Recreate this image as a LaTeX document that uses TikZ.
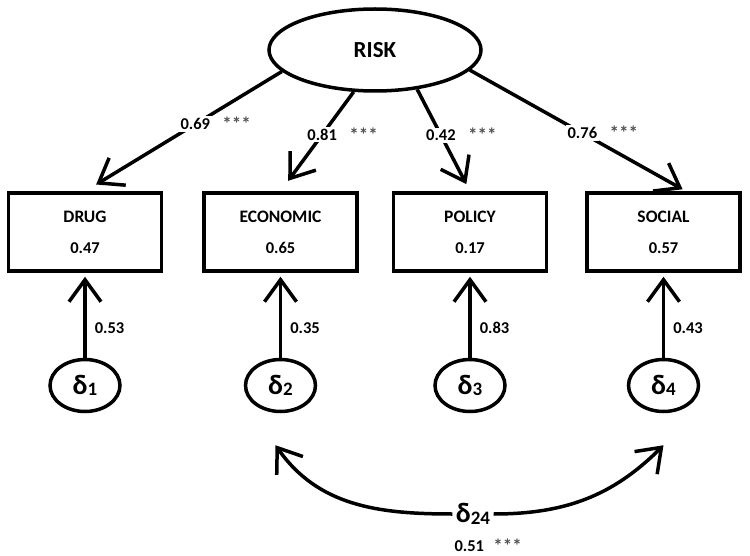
\documentclass[tikz,border=0pt]{standalone}
\usepackage{fontspec}
\setmainfont{Carlito}
\usepackage{tikz}
\usetikzlibrary{positioning, shapes.geometric, arrows.meta}
\definecolor{starcol}{RGB}{80,80,80}
\newcommand{\errsym}[1]{{\fontsize{28}{28}\selectfont δ}\raisebox{-0.35ex}{\fontsize{19}{19}\selectfont #1}}

\begin{document}
\begin{tikzpicture}[x=1pt, y=1pt,
            latent/.style={ellipse, draw, line width=3.5pt, minimum width=212pt, minimum height=82pt, inner sep=0pt, font=\fontsize{23}{27}\selectfont\bfseries},
            observed/.style={rectangle, draw, line width=3.5pt, minimum width=153pt, minimum height=78pt, align=center, font=\fontsize{17.5}{20}\selectfont\bfseries},
            errnode/.style={ellipse, draw, line width=3.5pt, minimum width=70pt, minimum height=52pt, inner sep=0pt, font=\bfseries},
            loading/.style={line width=3.5pt, -{Straight Barb[length=22pt,width=32pt]}},
            coef/.style={fill=white, inner sep=2pt, font=\fontsize{16.5}{19}\selectfont\bfseries},
            stars/.style={inner sep=0pt, label distance=7pt, font=\fontsize{19}{19}\selectfont\bfseries, text=starcol}
        ]
            \useasboundingbox (0,0) rectangle (750,-556);

            \node (risk) [latent] at (375,-50) {RISK};
            \node (drug) [observed] at (85,-232) {DRUG\\[11pt]{\fontsize{16.5}{19}\selectfont 0.47}};
            \node (economic) [observed, right=39pt of drug] {ECONOMIC\\[11pt]{\fontsize{16.5}{19}\selectfont 0.65}};
            \node (policy) [observed, right=33pt of economic] {POLICY\\[11pt]{\fontsize{16.5}{19}\selectfont 0.17}};
            \node (social) [observed, right=37pt of policy] {SOCIAL\\[11pt]{\fontsize{16.5}{19}\selectfont 0.57}};

            \node (d1) [errnode, below=85pt of drug] {\errsym{1}};
            \node (d2) [errnode, below=85pt of economic] {\errsym{2}};
            \node (d3) [errnode, below=85pt of policy] {\errsym{3}};
            \node (d4) [errnode, below=85pt of social] {\errsym{4}};

            \node (d24) [font=\bfseries] at (473,-514) {\errsym{24}};
            \node (cov) [coef, fill=none, anchor=north west, yshift=-10pt, label={[stars]right:***}] at (d24.south west) {0.51};
            \coordinate [below=32pt of d2, xshift=-5pt] (tip2);
            \coordinate [below=32pt of d4] (tip4);

            \draw[loading, shorten >=13pt] (risk.193) -- node[coef, pos=0.44, label={[stars]right:***}] {0.69} (drug.north);
            \draw[loading, shorten >=13pt] (risk.243) -- node[coef, pos=0.43, label={[stars]right:***}] {0.81} (economic.north);
            \draw[loading, shorten >=8pt] (risk.317) -- node[coef, pos=0.45, label={[stars]right:***}] {0.42} (policy.north);
            \draw[loading, shorten >=4pt] (risk.348) -- node[coef, pos=0.52, label={[stars]right:***}] {0.76} (social.61);

            \draw[loading, shorten >=4pt] (d1) -- node[coef, fill=none, pos=0.35, right=6pt] {0.53} (drug);
            \draw[loading, shorten >=4pt] (d2) -- node[coef, fill=none, pos=0.35, right=6pt] {0.35} (economic);
            \draw[loading, shorten >=4pt] (d3) -- node[coef, fill=none, pos=0.35, right=6pt] {0.83} (policy);
            \draw[loading, shorten >=4pt] (d4) -- node[coef, fill=none, pos=0.35, right=6pt] {0.43} (social);

            \draw[loading] (d24.west) to[out=180, in=-55] (tip2);
            \draw[loading] (d24.east) to[out=0, in=-135] (tip4);
        \end{tikzpicture}
\end{document}
